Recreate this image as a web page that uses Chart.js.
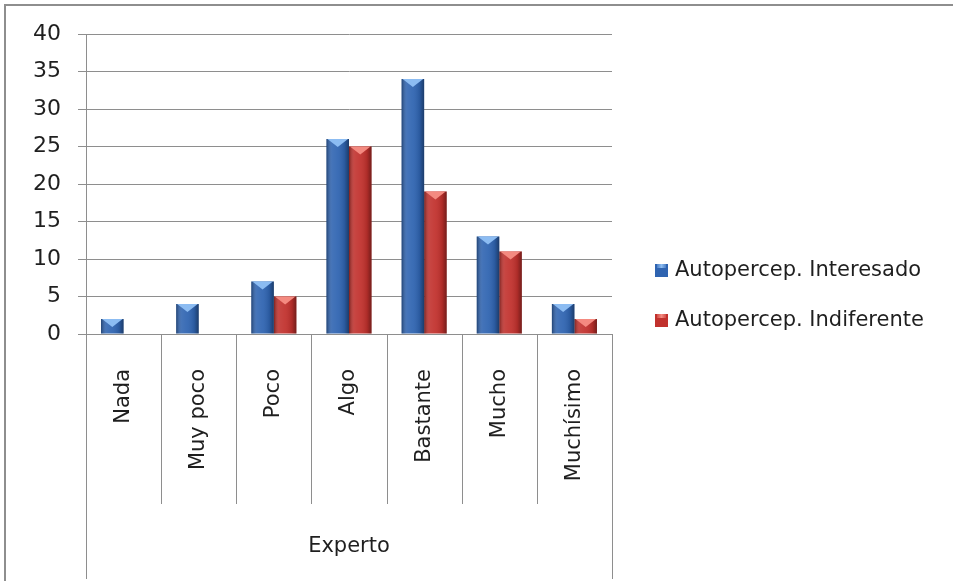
<!DOCTYPE html>
<html>
<head>
<meta charset="utf-8">
<script src="https://cdn.jsdelivr.net/npm/chart.js@4.4.1/dist/chart.umd.min.js"></script>
<style>
  html, body { margin: 0; padding: 0; background: #fff; }
  #wrap { width: 953px; height: 581px; }
</style>
</head>
<body>
<div id="wrap"><canvas id="myChart"></canvas></div>
<script>
const categories = ['Nada', 'Muy poco', 'Poco', 'Algo', 'Bastante', 'Mucho', 'Muchísimo'];
const interesado = [2, 4, 7, 26, 34, 13, 4];
const indiferente = [0, 0, 5, 25, 19, 11, 2];
const seriesNames = ['Autopercep. Interesado', 'Autopercep. Indiferente'];
const groupLabel = 'Experto';

const FONT = 'DejaVu Sans';
const TEXT = '#1f1f1f';
const LINE = '#8e8e8e';

// light top bevel + side shading on each bar
const bevelColors = ['#8cbcf2', '#f48a80'];
const barShade = {
  id: 'barShade',
  afterDatasetsDraw(chart) {
    const c = chart.ctx;
    chart.data.datasets.forEach((ds, di) => {
      chart.getDatasetMeta(di).data.forEach(bar => {
        const {x, y, base, width} = bar.getProps(['x', 'y', 'base', 'width'], true);
        const h = base - y;
        if (h < 1) return;
        const l = x - width / 2, r = x + width / 2;
        const g = c.createLinearGradient(l, 0, r, 0);
        g.addColorStop(0, 'rgba(0,0,0,0.35)');
        g.addColorStop(0.25, 'rgba(255,255,255,0.10)');
        g.addColorStop(0.5, 'rgba(255,255,255,0.06)');
        g.addColorStop(0.8, 'rgba(0,0,0,0.10)');
        g.addColorStop(1, 'rgba(0,0,0,0.40)');
        c.save();
        c.fillStyle = g;
        c.fillRect(l, y, width, h);
        const d = Math.min(8, h);
        c.fillStyle = bevelColors[di];
        c.beginPath();
        c.moveTo(l + 1, y);
        c.lineTo(r - 1, y);
        c.lineTo(x, y + d);
        c.closePath();
        c.fill();
        c.restore();
      });
    });
  }
};

// outer frame and the category dividers under the axis
const frame = {
  id: 'frame',
  beforeDraw(chart) {
    const c = chart.ctx;
    c.save();
    c.fillStyle = '#fff';
    c.fillRect(0, 0, chart.width, chart.height);
    c.strokeStyle = LINE;
    c.lineWidth = 2;
    c.beginPath();
    c.moveTo(5, chart.height);
    c.lineTo(5, 5);
    c.lineTo(chart.width, 5);
    c.stroke();
    c.restore();
  },
  afterDraw(chart) {
    const c = chart.ctx;
    const xs = chart.scales.x;
    const n = categories.length;
    const half = (xs.getPixelForValue(1) - xs.getPixelForValue(0)) / 2;
    const top = chart.chartArea.bottom;
    c.save();
    c.strokeStyle = LINE;
    c.lineWidth = 1;
    for (let i = 0; i <= n; i++) {
      const px = Math.round(xs.getPixelForValue(Math.min(i, n - 1)) + (i === n ? half : -half)) + 0.5;
      const end = (i === 0 || i === n) ? chart.height - 2 : top + 170;
      c.beginPath();
      c.moveTo(px, top);
      c.lineTo(px, end);
      c.stroke();
    }
    c.restore();
  }
};

// legend to the right of the plot, one row per dataset
const sideLegend = {
  id: 'sideLegend',
  afterDraw(chart) {
    const c = chart.ctx;
    const x0 = chart.chartArea.right + 43;
    c.save();
    c.font = '21px "' + FONT + '"';
    c.textBaseline = 'middle';
    c.fillStyle = TEXT;
    chart.data.datasets.forEach((ds, i) => {
      const cy = 270 + i * 50;
      const g = c.createLinearGradient(x0, 0, x0 + 13, 0);
      g.addColorStop(0, ds.backgroundColor);
      g.addColorStop(0.5, bevelColors[i]);
      g.addColorStop(1, ds.backgroundColor);
      c.fillStyle = ds.backgroundColor;
      c.fillRect(x0, cy - 6, 13, 13);
      c.fillStyle = g;
      c.fillRect(x0 + 2, cy - 6, 9, 4);
      c.fillStyle = TEXT;
      c.fillText(ds.label, x0 + 20, cy + 1);
    });
    c.restore();
  }
};

const ctx = document.getElementById('myChart');

new Chart(ctx, {
  type: 'bar',
  data: {
    labels: categories,
    datasets: [{
      label: seriesNames[0],
      data: interesado,
      backgroundColor: '#2f64b1',
      borderWidth: 0,
      barPercentage: 1.0,
      categoryPercentage: 0.6
    }, {
      label: seriesNames[1],
      data: indiferente,
      backgroundColor: '#c1312d',
      borderWidth: 0,
      barPercentage: 1.0,
      categoryPercentage: 0.6
    }]
  },
  options: {
    responsive: true,
    maintainAspectRatio: false,
    animation: false,
    layout: { padding: { top: 34, left: 0, right: 341, bottom: 0 } },
    plugins: {
      legend: { display: false },
      tooltip: { enabled: false }
    },
    scales: {
      y: {
        min: 0,
        max: 40,
        ticks: {
          stepSize: 5,
          padding: 17,
          color: TEXT,
          font: { family: FONT, size: 22 }
        },
        grid: { color: LINE, tickLength: 8 },
        border: { color: LINE },
        afterFit(scale) { scale.width = 86; }
      },
      x: {
        grid: { display: false },
        border: { color: LINE },
        ticks: {
          minRotation: 90,
          maxRotation: 90,
          padding: 27,
          color: TEXT,
          font: { family: FONT, size: 21 }
        },
        title: {
          display: true,
          text: groupLabel,
          color: TEXT,
          font: { family: FONT, size: 21 },
          padding: { top: 0, bottom: 22 }
        },
        afterFit(scale) { scale.height = 247; }
      }
    }
  },
  plugins: [frame, barShade, sideLegend]
});
</script>
</body>
</html>
